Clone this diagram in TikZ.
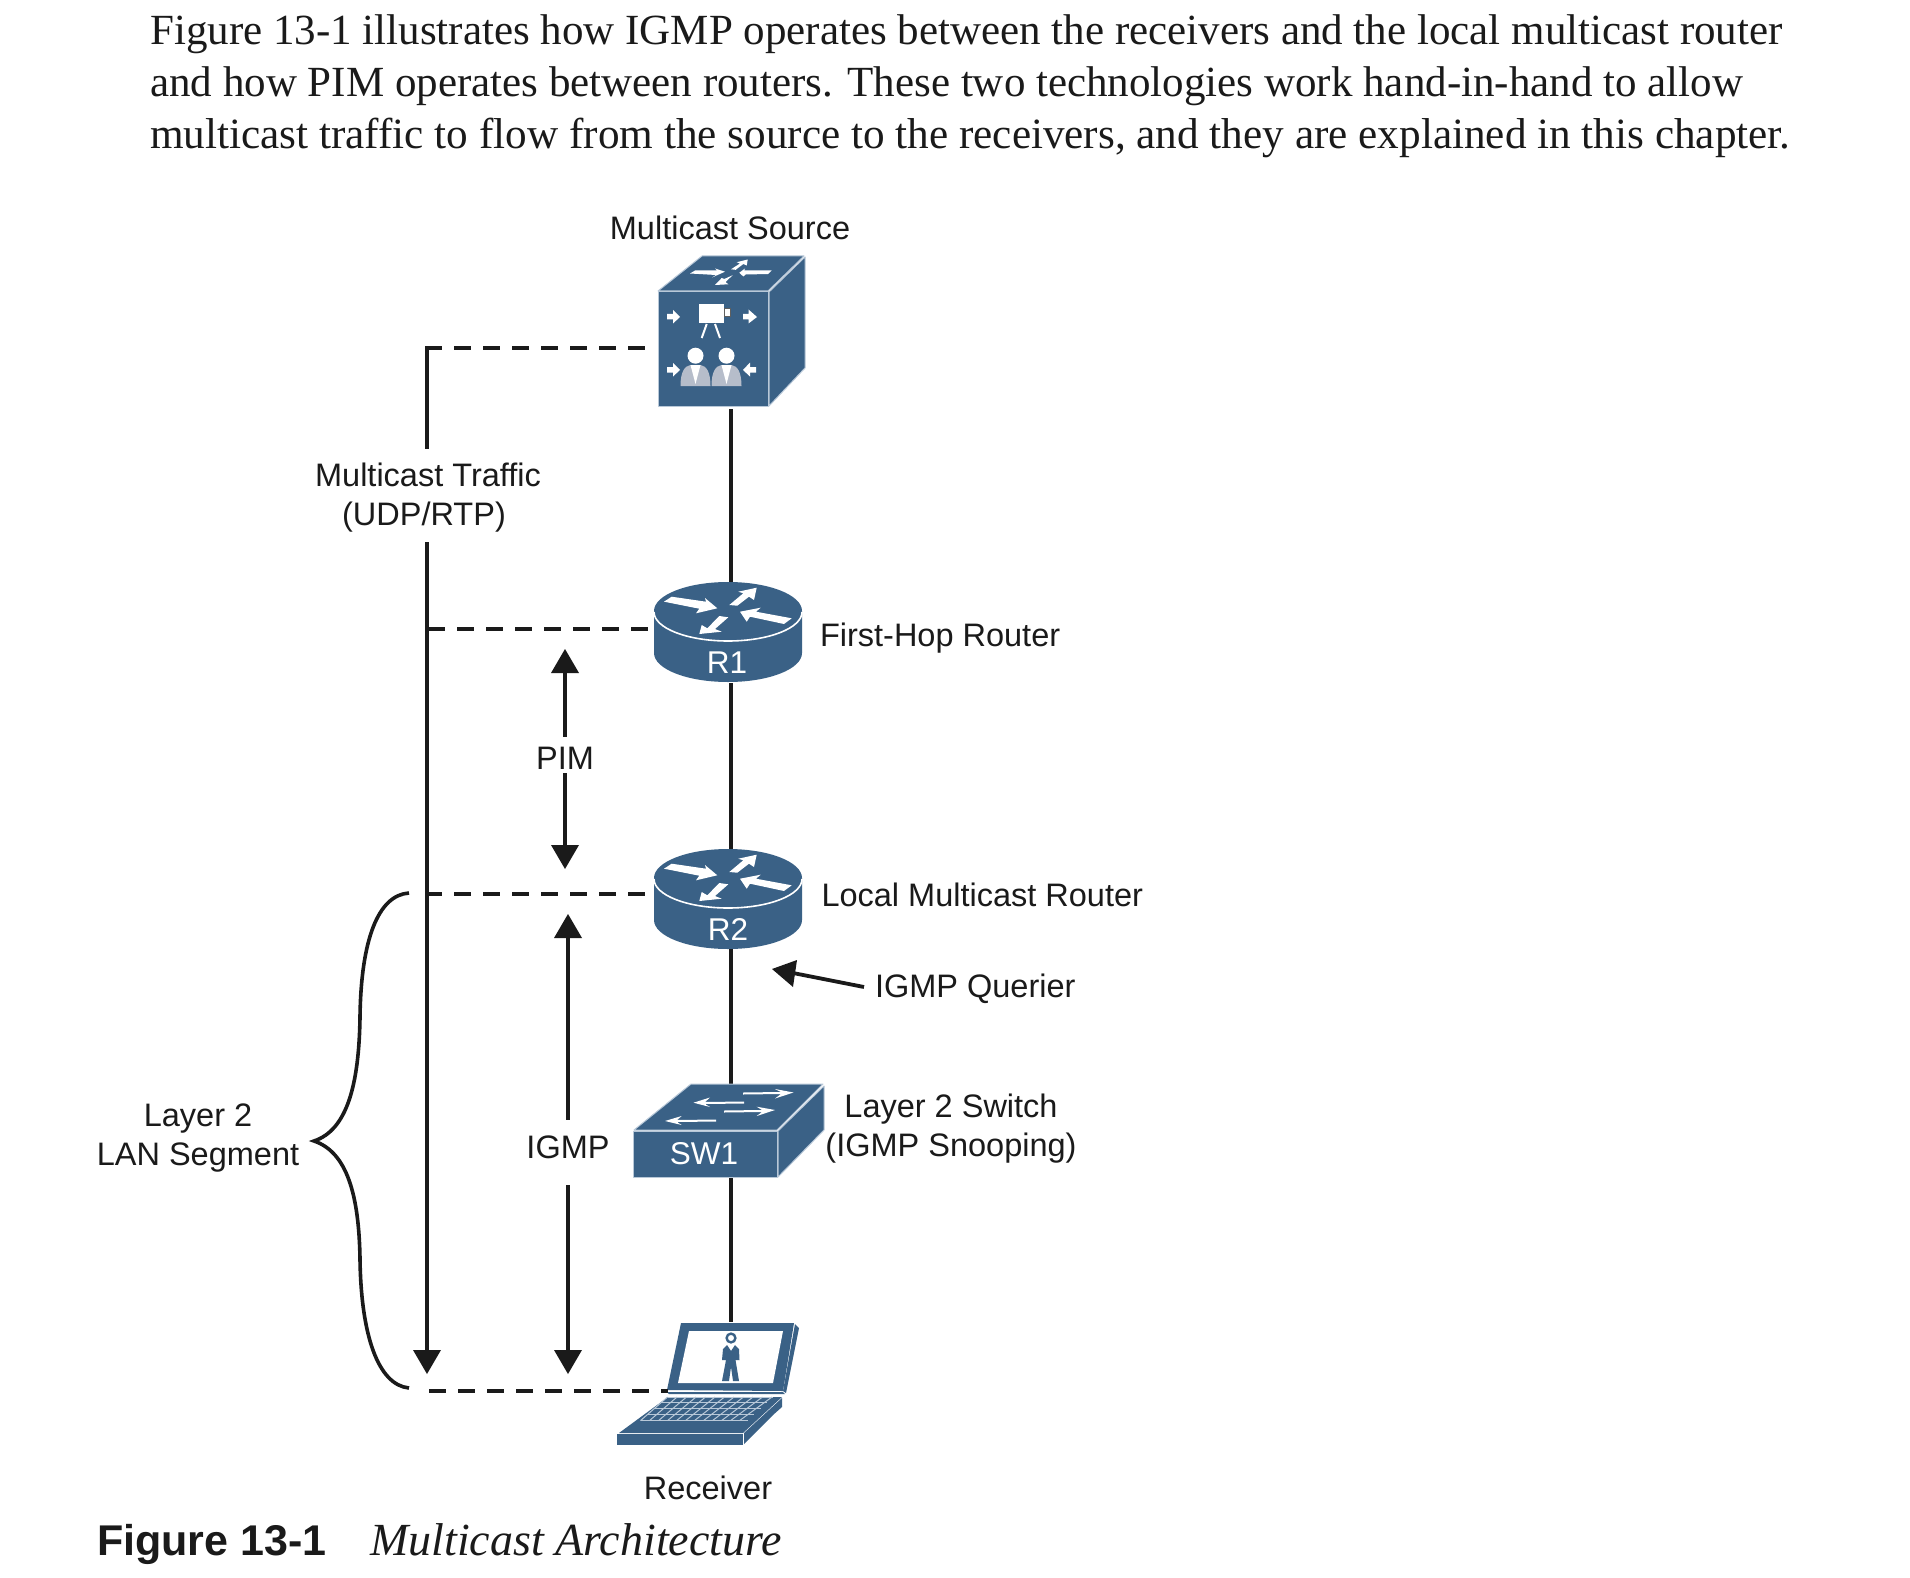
\documentclass[tikz,border=0pt]{standalone}
\usepackage{fontspec}
\setmainfont{Liberation Sans}
\newfontfamily\bodyserif{Liberation Serif}
\definecolor{ciscoblue}{HTML}{3A6186}
\definecolor{ink}{HTML}{1A1A1A}
\definecolor{edgeblue}{HTML}{B8C8D8}
\definecolor{suit}{HTML}{B6BDCA}
\tikzset{
  label/.style={inner sep=0pt,outer sep=0pt,text=ink,font=\fontsize{32.5}{39}\selectfont,align=center},
  leftlabel/.style={label,anchor=base west},
  devlabel/.style={inner sep=0pt,text=white,font=\fontsize{31.5}{36}\selectfont},
  bodyline/.style={inner sep=0pt,anchor=base west,text=ink},
  wire/.style={draw=ink,line width=3.8pt},
  trunk/.style={draw=ink,line width=4pt},
  dashline/.style={draw=ink,line width=4pt,dash pattern=on 17pt off 12pt},
  bracecurve/.style={draw=ink,line width=3.6pt},
  tip/.style={fill=ink,draw=none},
  face/.style={fill=ciscoblue,draw=edgeblue,line width=1pt,line join=round},
  keyline/.style={draw=edgeblue,line width=1pt},
}
\newcommand{\router}[2]{% origin = top of the top ellipse, centre x
  \begin{scope}[shift={(#1,#2)}]
    \fill[ciscoblue] (-74,29) .. controls (-74,13) and (-41,0) .. (0,0) .. controls (41,0) and (74,13) .. (74,29) -- (74,71) .. controls (74,87) and (41,100) .. (0,100) .. controls (-41,100) and (-74,87) .. (-74,71) -- cycle;
    \draw[white,line width=1.6pt] (-74,30) .. controls (-74,46) and (-41,59) .. (0,59) .. controls (41,59) and (74,46) .. (74,30);
    \fill[white] (-64,19.7) -- (-56.3,14.7) -- (-22,19.7) -- (-23,16) -- (-10.7,26.3) -- (-32,31.3) -- (-28.7,26.7) -- cycle;
    \fill[white] (1.3,23) -- (15.3,11.3) -- (10.3,9.7) -- (28.7,5.7) -- (26,18) -- (21,14.7) -- (9.3,23.7) -- cycle;
    \fill[white] (63.7,36.3) -- (56,42) -- (22,34.7) -- (18.7,39.7) -- (12,29.7) -- (32.7,25.7) -- (28,29.7) -- cycle;
    \fill[white] (-28.7,52) -- (-26.3,43) -- (-20.7,46.3) -- (-8.7,34) -- (0.3,35.3) -- (-13,47) -- (-6.3,49.7) -- cycle;
  \end{scope}}
\begin{document}
\begin{tikzpicture}[x=1pt,y=-1pt]
\useasboundingbox (0,0) rectangle (1910,1578);
\fill[white] (0,0) rectangle (1910,1578);

% ---- running text
\node[bodyline] (t1) at (150,45) {\bodyserif\fontsize{43}{50}\selectfont Figure 13-1 illustrates how IGMP operates between the receivers and the local multicast router};
\node[bodyline] (t2) at (150,97) {\bodyserif\fontsize{43}{50}\selectfont and how PIM operates between routers. These two technologies work hand-in-hand to allow};
\node[bodyline] (t3) at (150,148.5) {\bodyserif\fontsize{43.2}{50}\selectfont multicast traffic to flow from the source to the receivers, and they are explained in this chapter.};

% ---- anchors
\coordinate (srcS) at (731,409);
\coordinate (r1N) at (731,583);
\coordinate (r1S) at (731,683);
\coordinate (r2N) at (731,850);
\coordinate (r2S) at (731,949);
\coordinate (swN) at (731,1084);
\coordinate (swS) at (731,1178);
\coordinate (rxN) at (731,1322);

% ---- centre wire
\draw[wire] (srcS) -- (r1N);
\draw[wire] (r1S) -- (r2N);
\draw[wire] (r2S) -- (swN);
\draw[wire] (swS) -- (rxN);

% ---- multicast source cube
\draw[face] (658,292) -- (768,292) -- (768,406) -- (658,406) -- cycle;
\draw[face] (658,291) -- (702,256) -- (804,256) -- (768,291) -- cycle;
\draw[face] (769,292) -- (805,257) -- (805,368) -- (769,406) -- cycle;
% top arrows
\fill[white] (690,273.5) -- (695,270.5) -- (717,270.5) -- (715,268.5) -- (725,271.7) -- (712,277.5) -- (716,275) -- cycle;
\fill[white] (739.3,272.7) -- (745,268.5) -- (744,270.5) -- (771.7,270.5) -- (768,274) -- (745.7,274.5) -- (743.3,276.5) -- cycle;
\fill[white] (731,269.3) -- (740,263.5) -- (736.7,262.2) -- (747.7,259.5) -- (746.7,265.5) -- (743.3,264) -- (735.7,269.8) -- cycle;
\fill[white] (715,285) -- (721.7,278) -- (724.3,279) -- (732.7,275.2) -- (725.5,282) -- (728.3,284.3) -- cycle;
% side arrows
\fill[white] (667,314) -- (673,314) -- (673,310) -- (680,317) -- (673,323.5) -- (673,319.5) -- (667,319.5) -- cycle;
\fill[white] (743,314) -- (748.5,314) -- (748.5,309.5) -- (757,317) -- (748.5,323.5) -- (748.5,319.5) -- (743,319.5) -- cycle;
\fill[white] (667,367) -- (673,367) -- (673,363) -- (680,370) -- (673,376.5) -- (673,372.5) -- (667,372.5) -- cycle;
\fill[white] (756,367) -- (750,367) -- (750,362.5) -- (743,370) -- (750,376.5) -- (750,372.5) -- (756,372.5) -- cycle;
% camera
\fill[white] (699,304.5) rectangle (724,323.5);
\draw[draw=ink!70,fill=white,line width=.6pt] (724.5,308) rectangle (730,316);
\draw[white,line width=2pt] (706.7,324) -- (701.7,338);
\draw[white,line width=2pt] (715,324) -- (720,338);
% people
\foreach \px in {695.5,726.5}{
  \fill[suit] (\px-15,386) .. controls (\px-15,372) and (\px-11,366) .. (\px-5,365) -- (\px+5,365) .. controls (\px+11,366) and (\px+15,372) .. (\px+15,386) -- cycle;
  \fill[white] (\px-5,365) -- (\px+5,365) -- (\px,384) -- cycle;
  \fill[white] (\px,355.7) circle (8);
}

% ---- routers
\router{728}{582}
\router{728}{849}
\node[devlabel] (r1lab) at (727,663) {R1};
\node[devlabel] (r2lab) at (728,929) {R2};

% ---- switch
\draw[face] (633,1131) rectangle (777,1177);
\draw[face] (634,1130) -- (691,1084) -- (823,1084) -- (777,1130) -- cycle;
\draw[face] (778,1131) -- (824,1086) -- (824,1130) -- (778,1177) -- cycle;
\fill[white] (743,1092.5) -- (781,1092) -- (775,1089) -- (793.5,1092.5) -- (775,1098.5) -- (781,1094) -- (743,1094.5) -- cycle;
\fill[white] (744,1101.5) -- (744,1103.5) -- (705,1104) -- (710,1107) -- (693.5,1102.7) -- (710,1097.5) -- (705,1102) -- cycle;
\fill[white] (724,1110.5) -- (762,1110) -- (756.7,1106.7) -- (775,1110) -- (756.7,1116) -- (762,1112) -- (724,1112.5) -- cycle;
\fill[white] (716,1119.5) -- (716,1121.5) -- (677,1122) -- (681.7,1125) -- (665,1121) -- (681.7,1116) -- (677,1120) -- cycle;
\node[devlabel] (swlab) at (704,1154) {SW1};

% ---- laptop
\fill[ciscoblue] (681,1323) -- (794,1323) -- (783,1391) -- (667,1390) -- cycle;
\fill[white] (689,1331) -- (783,1331) -- (773,1383) -- (678,1383) -- cycle;
\fill[ciscoblue] (795,1324) -- (799,1328) -- (786,1393) -- (783,1391) -- cycle;
\fill[ciscoblue] (667,1392) -- (783,1392) -- (785,1394) -- (669,1394) -- cycle;
\fill[ciscoblue] (668,1397) -- (782,1397) -- (743,1433) -- (619,1433) -- cycle;
\fill[ciscoblue] (617,1434) rectangle (743,1445);
\fill[ciscoblue] (744,1433) -- (782,1398) -- (782,1407) -- (773,1415) -- (744,1444) -- cycle;
% keyboard grid
\foreach \v in {0,1,2,3,4}{
  \draw[keyline] ({667.5-\v*6.75},{1397+\v*5.9}) -- ({773-\v*6.25},{1397+\v*5.9});
}
\foreach \k in {0,...,11}{
  \draw[keyline] ({667.5+\k*9.5},1397) -- ({640.5+\k*9.0},1420.6);
}
% person on screen
\draw[ciscoblue,fill=white,line width=2.4pt] (731,1338) circle (4.4);
\fill[ciscoblue] (727,1345) -- (731,1351) -- (735,1345) -- (739,1349) -- (739.5,1360) -- (735.5,1360) -- (739,1381) -- (733,1381) -- (731,1367) -- (729,1381) -- (722,1381) -- (726,1360) -- (722,1360) -- (723,1349) -- cycle;

% ---- left trunk and dashes
\coordinate (trunkGapA) at (427,449);
\coordinate (trunkGapB) at (427,542);
\coordinate (trunkEnd) at (427,1350);
\draw[trunk] (427,346) -- (trunkGapA);
\draw[trunk] (trunkGapB) -- (trunkEnd);
\path[tip] (427,1374) -- (413,1350) -- (441,1350) -- cycle;
\draw[dashline] (425,348) -- (645,348);
\draw[dashline] (428,629) -- (648,629);
\draw[dashline] (425,894) -- (645,894);
\draw[dashline] (429,1391) -- (668,1391);

% ---- brace
\draw[bracecurve] (409,893) .. controls (378,895) and (361,940) .. (360,1017)
  .. controls (359,1085) and (347,1130) .. (314,1141)
  .. controls (347,1152) and (359,1195) .. (360,1259)
  .. controls (361,1335) and (378,1385) .. (409,1388);

% ---- PIM arrow
\draw[wire] (565,673) -- (565,737);
\draw[wire] (565,773) -- (565,846);
\path[tip] (565,649) -- (551,673) -- (579,673) -- cycle;
\path[tip] (565,869) -- (551,845) -- (579,845) -- cycle;

% ---- IGMP arrow
\draw[wire] (568,938) -- (568,1120);
\draw[wire] (568,1185) -- (568,1350);
\path[tip] (568,914) -- (554,938) -- (582,938) -- cycle;
\path[tip] (568,1374) -- (554,1350) -- (582,1350) -- cycle;

% ---- querier arrow
\coordinate (qTail) at (864,987);
\coordinate (qBase) at (793,973);
\draw[wire] (qTail) -- (qBase);
\path[tip] (772,969) -- (797,960) -- (793,987) -- cycle;

% ---- labels
\node[label,anchor=base] (lsrc) at (730,239.5) {Multicast Source};
\node[leftlabel] (lr1) at (820,646) {First-Hop Router};
\node[leftlabel] (lr2) at (821.5,906.5) {Local Multicast Router};
\node[leftlabel] (lq) at (875,997) {IGMP Querier};
\node[label,anchor=base] (lsw1) at (951,1117) {Layer 2 Switch};
\node[label,anchor=base] (lsw2) at (951,1156) {(IGMP Snooping)};
\node[label,anchor=base] (ll1) at (198,1126.5) {Layer 2};
\node[label,anchor=base] (ll2) at (198,1165) {LAN Segment};
\node[label,anchor=base] (lm1) at (428,486) {Multicast Traffic};
\node[label,anchor=base] (lm2) at (424,525) {(UDP/RTP)};
\node[label] (lpim) at (565,758) {PIM};
\node[label] (ligmp) at (568,1147) {IGMP};
\node[label,anchor=base] (lrx) at (708,1499) {Receiver};

% ---- caption
\node[inner sep=0pt,anchor=base west,text=ink] (capa) at (97,1555) {\bfseries\fontsize{43}{50}\selectfont Figure 13-1};
\node[inner sep=0pt,anchor=base west,text=ink] (capb) at (370,1555) {\bodyserif\itshape\fontsize{46}{50}\selectfont Multicast Architecture};
\end{tikzpicture}
\end{document}
